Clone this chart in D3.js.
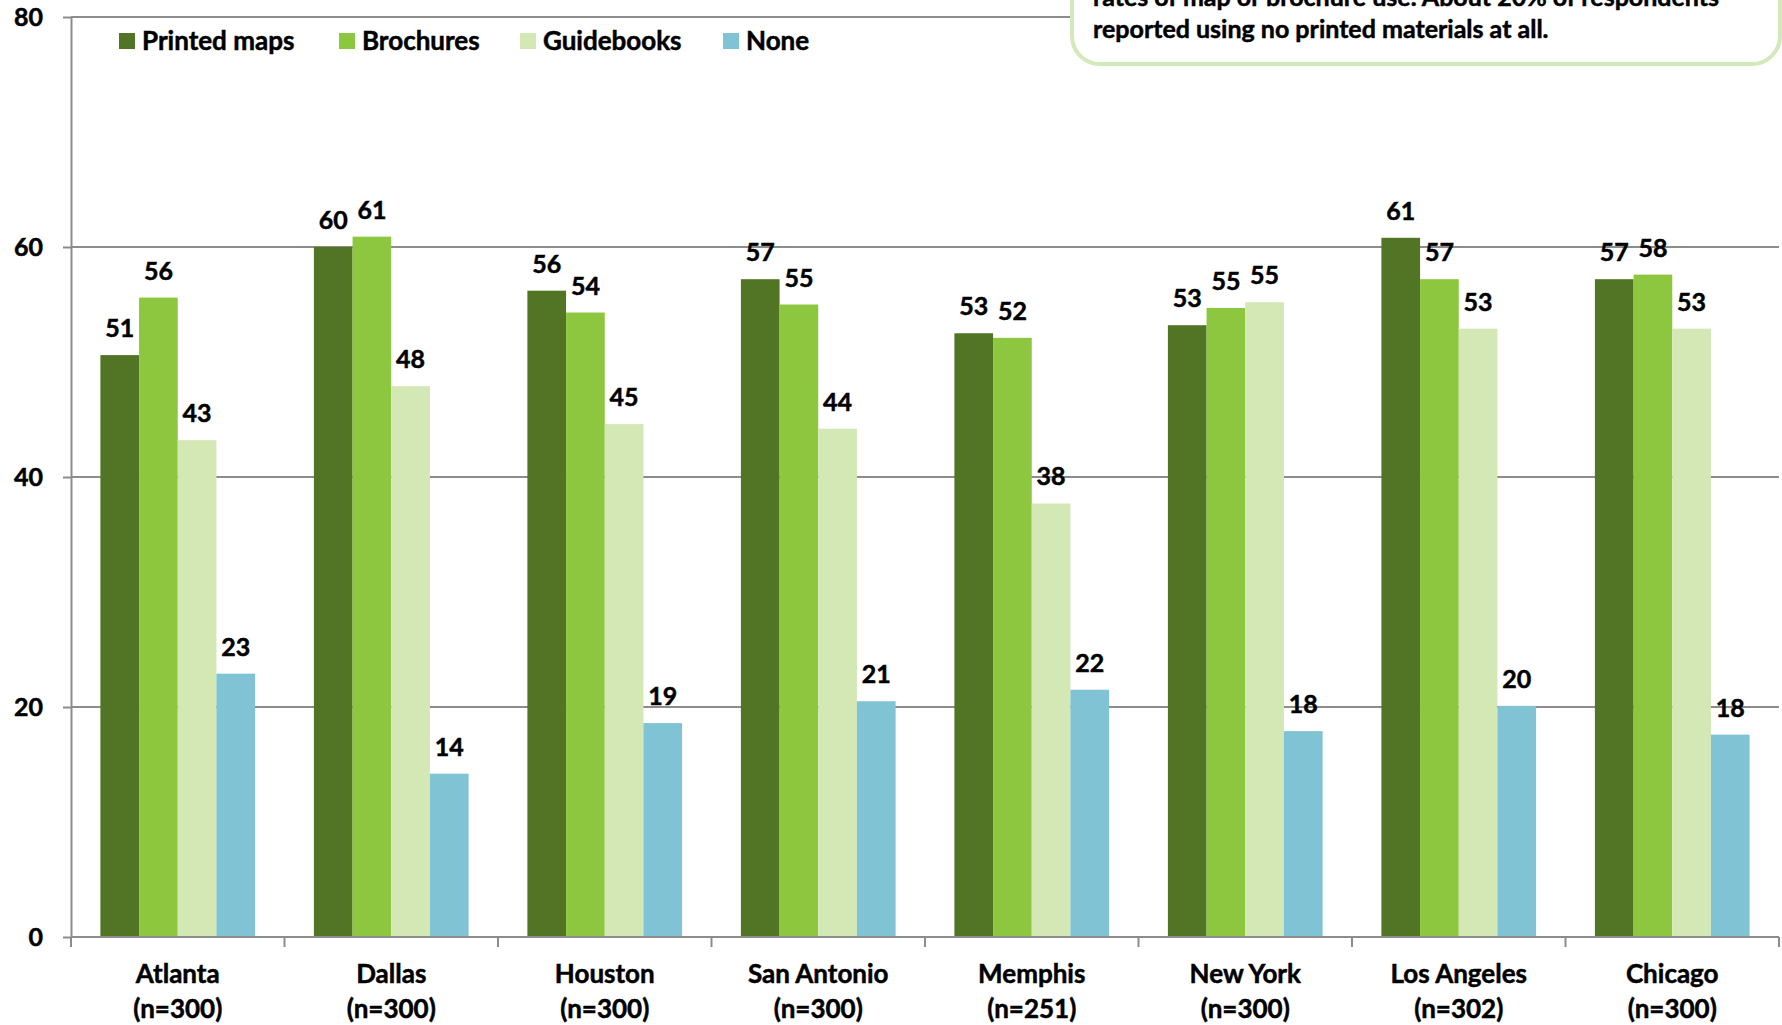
<!DOCTYPE html>
<html>
<head>
<meta charset="utf-8">
<script src="https://cdn.jsdelivr.net/npm/d3@7"></script>
<style>
body { margin: 0; background: #fff; overflow: hidden; }
text { font-family: Lato, "DejaVu Sans", sans-serif; font-weight: bold; fill: #000; stroke: #000; stroke-width: 0.5px; }
</style>
</head>
<body>
<div id="chart"></div>
<script>
let cities = ["Atlanta", "Dallas", "Houston", "San Antonio", "Memphis", "New York", "Los Angeles", "Chicago"];
let sampleSizes = ["(n=300)", "(n=300)", "(n=300)", "(n=300)", "(n=251)", "(n=300)", "(n=302)", "(n=300)"];
let seriesNames = ["Printed maps", "Brochures", "Guidebooks", "None"];
let printedMaps = [50.6, 60.0, 56.2, 57.2, 52.5, 53.2, 60.8, 57.2];
let brochures = [55.6, 60.9, 54.3, 55.0, 52.1, 54.7, 57.2, 57.6];
let guidebooks = [43.2, 47.9, 44.6, 44.2, 37.7, 55.2, 52.9, 52.9];
let noneUsed = [22.9, 14.2, 18.6, 20.5, 21.5, 17.9, 20.1, 17.6];
let yTicks = [0, 20, 40, 60, 80];
let calloutLines = ["rates of map or brochure use. About 20% of respondents",
                    "reported using no printed materials at all."];

let colors = ["#517525", "#8dc63f", "#d3e8b5", "#7fc3d4"];
let seriesValues = [printedMaps, brochures, guidebooks, noneUsed];

let margin = { top: 17, bottom: 88, left: 71, right: 3 };
let width = 1782 - margin.left - margin.right;
let height = 1025 - margin.top - margin.bottom;

let root = d3.select("#chart")
    .append("svg")
    .attr("width", 1782)
    .attr("height", 1025);

let svg = root.append("g")
    .attr("transform", "translate(" + margin.left + "," + margin.top + ")");

let y = d3.scaleLinear().domain([0, 80]).range([height, 0]);
let x0 = d3.scaleBand().domain(cities).range([0, width]).paddingInner(0).paddingOuter(0);
let x1 = d3.scaleBand().domain(seriesNames).range([0, x0.bandwidth()]).paddingInner(0).paddingOuter(0.76);

// gridlines
svg.append("g")
    .selectAll("line")
    .data(yTicks.filter(d => d > 0))
    .enter()
    .append("line")
    .attr("x1", 0)
    .attr("x2", width)
    .attr("y1", d => y(d))
    .attr("y2", d => y(d))
    .attr("stroke", "#8c8c8c")
    .attr("stroke-width", 2);

// y axis
let yAxis = svg.append("g")
    .call(d3.axisLeft(y).tickValues(yTicks).tickSize(8).tickSizeOuter(0).tickPadding(20));
yAxis.selectAll("path, line").attr("stroke", "#8c8c8c").attr("stroke-width", 2);
yAxis.selectAll("text").style("font-size", "25px").style("font-family", null).attr("fill", "#000");

// bars
let rows = cities.map((c, i) => seriesNames.map((s, j) => ({ city: c, series: s, value: seriesValues[j][i], k: j })));

let groups = svg.append("g")
    .selectAll("g")
    .data(rows)
    .enter()
    .append("g")
    .attr("transform", (d, i) => "translate(" + x0(cities[i]) + ",0)");

groups.selectAll("rect")
    .data(d => d)
    .enter()
    .append("rect")
    .attr("x", d => x1(d.series))
    .attr("y", d => y(d.value))
    .attr("width", x1.bandwidth())
    .attr("height", d => height - y(d.value))
    .attr("fill", d => colors[d.k]);

groups.selectAll("text")
    .data(d => d)
    .enter()
    .append("text")
    .attr("x", d => x1(d.series) + x1.bandwidth() / 2)
    .attr("y", d => y(d.value) - 18)
    .attr("text-anchor", "middle")
    .style("font-size", "25px")
    .text(d => Math.round(d.value));

// x axis line + boundary ticks
svg.append("line")
    .attr("x1", 0).attr("x2", width)
    .attr("y1", height).attr("y2", height)
    .attr("stroke", "#8c8c8c").attr("stroke-width", 2);

svg.append("g")
    .selectAll("line")
    .data(cities.map(c => x0(c)).concat([width]))
    .enter()
    .append("line")
    .attr("x1", d => d).attr("x2", d => d)
    .attr("y1", height).attr("y2", height + 10)
    .attr("stroke", "#8c8c8c").attr("stroke-width", 2);

let catLabels = svg.append("g")
    .selectAll("text")
    .data(cities)
    .enter()
    .append("text")
    .attr("text-anchor", "middle")
    .style("font-size", "26px");
catLabels.append("tspan")
    .attr("x", d => x0(d) + x0.bandwidth() / 2)
    .attr("y", height + 46)
    .text(d => d);
catLabels.append("tspan")
    .attr("x", d => x0(d) + x0.bandwidth() / 2)
    .attr("y", height + 81)
    .text((d, i) => sampleSizes[i]);

// legend
let legendX = [119, 339, 520, 723];
let legend = svg.append("g")
    .selectAll("g")
    .data(seriesNames)
    .enter()
    .append("g")
    .attr("transform", (d, i) => "translate(" + (legendX[i] - margin.left) + ",16)");
legend.append("rect")
    .attr("x", 0).attr("y", 0)
    .attr("width", 16).attr("height", 16)
    .attr("fill", (d, i) => colors[i]);
legend.append("text")
    .attr("x", 23)
    .attr("y", 17)
    .style("font-size", "26px")
    .text(d => d);

// callout box (top cut off by the page)
root.append("rect")
    .attr("x", 1072)
    .attr("y", -60)
    .attr("width", 708)
    .attr("height", 124)
    .attr("rx", 28)
    .attr("fill", "#fff")
    .attr("stroke", "#d2e9b9")
    .attr("stroke-width", 4);

root.append("g")
    .selectAll("text")
    .data(calloutLines)
    .enter()
    .append("text")
    .attr("x", 1093)
    .attr("y", (d, i) => 6 + i * 32)
    .style("font-size", "25px")
    .text(d => d);
</script>
</body>
</html>
